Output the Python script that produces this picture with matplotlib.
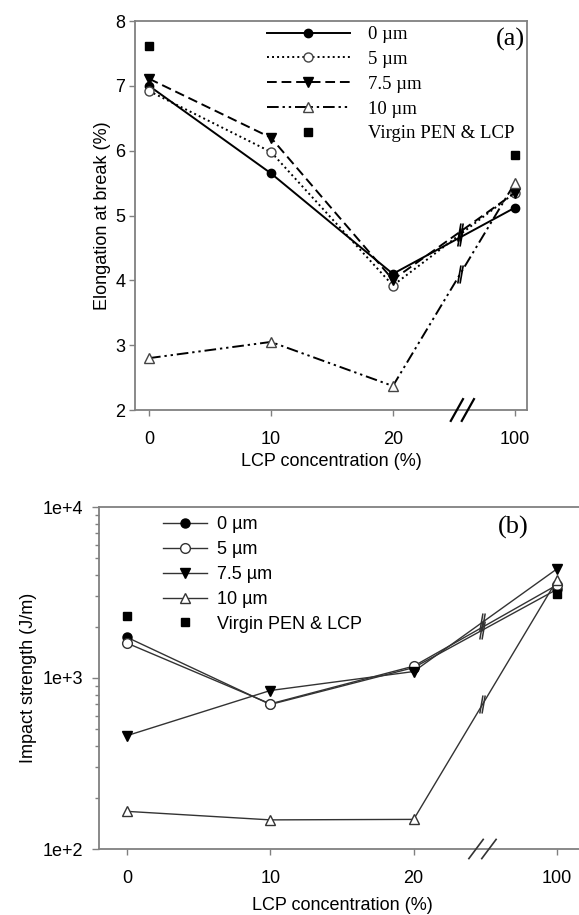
import numpy as np
import matplotlib
matplotlib.use("Agg")
import matplotlib.pyplot as plt
from matplotlib.path import Path

# ---------------- data ----------------
categories = ["0", "10", "20", "100"]
virgin_idx = [0, 3]

# (a) Elongation at break (%)
elong_0 = [7.00, 5.65, 4.10, 5.12]
elong_5 = [6.92, 5.98, 3.92, 5.35]
elong_75 = [7.11, 6.20, 4.01, 5.35]
elong_10 = [2.80, 3.05, 2.37, 5.50]
elong_virgin = [7.61, 5.93]

# (b) Impact strength (J/m)
impact_0 = [1730, 700, 1150, 3300]
impact_5 = [1600, 706, 1173, 3500]
impact_75 = [460, 845, 1091, 4350]
impact_10 = [166, 148, 149, 3750]
impact_virgin = [2300, 3080]

labels = ["0 \u00b5m", "5 \u00b5m", "7.5 \u00b5m", "10 \u00b5m", "Virgin PEN & LCP"]

W, H = 579, 915
fig = plt.figure(figsize=(W / 100, H / 100), dpi=100)

def fx(px):
    return px / W

def fy(py):
    return 1 - py / H

SANS = ["Liberation Sans", "DejaVu Sans"]
SERIF = ["Liberation Serif", "DejaVu Serif"]
SPINE = "#808080"

xpos = np.arange(len(categories))

# break marker (two slanted strokes)
brk_path = Path([(-0.30, -1), (0.05, 1), (-0.05, -1), (0.30, 1)],
                [Path.MOVETO, Path.LINETO, Path.MOVETO, Path.LINETO])


def style_axes(ax, fs, xpad, ypad, ylen):
    for s in ax.spines.values():
        s.set_color(SPINE)
        s.set_linewidth(1.3)
    ax.tick_params(which="both", direction="out", color=SPINE, width=1.0,
                   labelsize=fs)
    ax.tick_params(axis="x", which="major", length=4, pad=xpad)
    ax.tick_params(axis="y", which="major", length=ylen, pad=ypad)
    ax.tick_params(axis="y", which="minor", length=3)
    for lab in ax.get_xticklabels() + ax.get_yticklabels():
        lab.set_family(SANS)


def break_marks(ax, series, xb, ms, color, lw, log=False):
    for s in series:
        y0, y1 = s[2], s[3]
        t = xb - 2
        if log:
            yb = 10 ** (np.log10(y0) + t * (np.log10(y1) - np.log10(y0)))
        else:
            yb = y0 + t * (y1 - y0)
        ax.plot([xb], [yb], marker=brk_path, ms=ms, mew=lw, color=color,
                linestyle="none", zorder=5)


def axis_break(ax, xb, color, lw):
    tr = ax.get_xaxis_transform()
    for dx in (-0.045, 0.045):
        ax.plot([xb + dx - 0.05, xb + dx + 0.05], [-0.028, 0.028],
                transform=tr, color=color, lw=lw, clip_on=False, zorder=6)


# ================= panel (a) =================
axa = fig.add_axes([fx(135), fy(410), fx(527) - fx(135), fy(21) - fy(410)])
k = "black"
lw = 1.4
axa.plot(xpos, elong_0, color=k, lw=lw, ls="-", marker="o", ms=6,
         mfc=k, mec=k, label=labels[0])
axa.plot(xpos, elong_5, color=k, lw=lw, ls=(0, (1, 1.6)), marker="o", ms=6.5,
         mfc="white", mec="#444444", label=labels[1])
axa.plot(xpos, elong_75, color=k, lw=lw, ls=(0, (5, 2.5)), marker="v", ms=7,
         mfc=k, mec=k, label=labels[2])
axa.plot(xpos, elong_10, color=k, lw=lw, ls=(0, (6, 2, 1.2, 2, 1.2, 2)),
         marker="^", ms=6.5, mfc="white", mec="#444444", label=labels[3])
axa.plot(xpos[virgin_idx], elong_virgin, ls="none", marker="s", ms=6,
         mfc=k, mec=k, label=labels[4])

axa.set_xlim(-0.115, 3.1)
axa.set_ylim(2, 8)
axa.set_xticks(xpos)
axa.set_xticklabels(categories)
axa.set_yticks(np.arange(2, 9, 1))
style_axes(axa, 13, xpad=11, ypad=3, ylen=4)
axa.set_xlabel("LCP concentration (%)", fontsize=13, family=SANS, labelpad=4)
axa.set_ylabel("Elongation at break (%)", fontsize=13, family=SANS, labelpad=3)
break_marks(axa, [elong_0, elong_75], 2.55, 13, k, 1.2)
break_marks(axa, [elong_10], 2.55, 13, k, 1.2)
axis_break(axa, 2.57, k, 1.6)
axa.text(fx(525), fy(39), "(a)", transform=fig.transFigure, ha="right",
         va="center", fontsize=19, family=SERIF)

lega = axa.legend(loc="upper left", bbox_to_anchor=(fx(267), fy(26)),
                  bbox_transform=fig.transFigure, frameon=False,
                  prop={"family": SERIF, "size": 13.5}, handlelength=4.4,
                  handletextpad=1.0, labelspacing=0.41, borderpad=0,
                  borderaxespad=0)

# ================= panel (b) =================
axb = fig.add_axes([fx(99), fy(849), fx(585) - fx(99), fy(507) - fy(849)])
g = "#333333"
lwb = 1.0
axb.plot(xpos, impact_0, color=g, lw=lwb, marker="o", ms=6.5,
         mfc=k, mec=k, label=labels[0])
axb.plot(xpos, impact_5, color=g, lw=lwb, marker="o", ms=7,
         mfc="white", mec="#333333", label=labels[1])
axb.plot(xpos, impact_75, color=g, lw=lwb, marker="v", ms=7,
         mfc=k, mec=k, label=labels[2])
axb.plot(xpos, impact_10, color=g, lw=lwb, marker="^", ms=7,
         mfc="white", mec="#333333", label=labels[3])
axb.plot(xpos[virgin_idx], impact_virgin, ls="none", marker="s", ms=6,
         mfc=k, mec=k, label=labels[4])

axb.set_yscale("log")
axb.set_ylim(100, 10000)
axb.set_xlim(-0.195, 3.195)
axb.set_xticks(xpos)
axb.set_xticklabels(categories)
axb.set_yticks([100, 1000, 10000])
axb.set_yticklabels(["1e+2", "1e+3", "1e+4"])
axb.spines["right"].set_visible(False)
style_axes(axb, 13, xpad=11, ypad=6.5, ylen=5)
axb.set_xlabel("LCP concentration (%)", fontsize=13, family=SANS, labelpad=7)
axb.set_ylabel("Impact strength (J/m)", fontsize=13, family=SANS, labelpad=4)
break_marks(axb, [impact_0, impact_75], 2.48, 13, g, 1.1, log=True)
break_marks(axb, [impact_10], 2.48, 13, g, 1.1, log=True)
axis_break(axb, 2.48, g, 1.2)
axb.text(fx(529), fy(527), "(b)", transform=fig.transFigure, ha="right",
         va="center", fontsize=19, family=SERIF)

legb = axb.legend(loc="upper left", bbox_to_anchor=(fx(163), fy(516)),
                  bbox_transform=fig.transFigure, frameon=False,
                  prop={"family": SANS, "size": 13}, handlelength=2.45,
                  handletextpad=0.55, labelspacing=0.44, borderpad=0,
                  borderaxespad=0)

fig.savefig("out.png", dpi=100)
